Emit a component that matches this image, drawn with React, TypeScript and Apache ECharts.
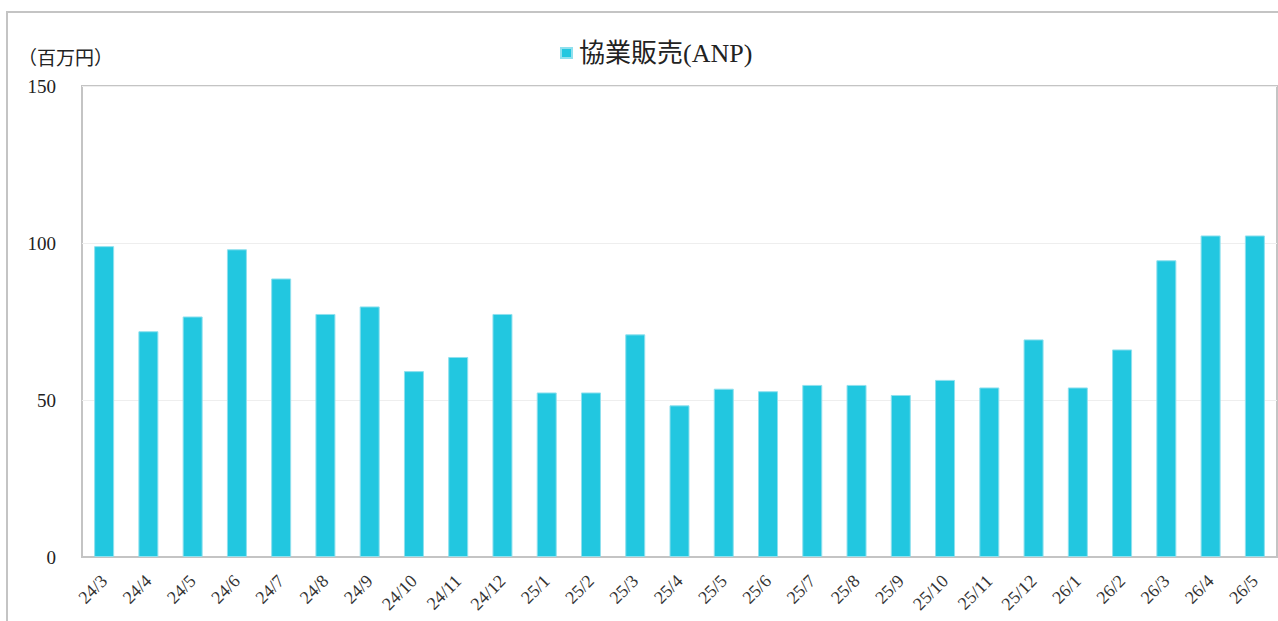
import React, { useEffect, useRef } from "react";
import * as echarts from "echarts";

const categories = [
  "24/3", "24/4", "24/5", "24/6", "24/7", "24/8", "24/9", "24/10", "24/11", "24/12",
  "25/1", "25/2", "25/3", "25/4", "25/5", "25/6", "25/7", "25/8", "25/9", "25/10",
  "25/11", "25/12", "26/1", "26/2", "26/3", "26/4", "26/5",
];

const anpValues = [
  99.0, 71.9, 76.6, 98.0, 88.7, 77.4, 79.8, 59.2, 63.7, 77.4,
  52.4, 52.4, 70.9, 48.3, 53.6, 52.8, 54.8, 54.8, 51.6, 56.4,
  54.0, 69.3, 54.0, 66.1, 94.5, 102.4, 102.4,
];

const seriesName = "協業販売(ANP)";
const unitLabel = "（百万円）";

const SERIF = "'Liberation Serif', 'DejaVu Serif', 'Noto Sans CJK JP', serif";

export default function App() {
  const ref = useRef<HTMLDivElement>(null);

  useEffect(() => {
    if (!ref.current) return;
    const chart = echarts.init(ref.current, undefined, { renderer: "svg" });
    chart.setOption({
      animation: false,
      backgroundColor: "#ffffff",
      legend: {
        data: [seriesName],
        left: 555,
        top: 35,
        icon: "rect",
        itemWidth: 11,
        itemHeight: 10,
        itemGap: 0,
        textStyle: {
          fontFamily: SERIF,
          fontSize: 26,
          color: "#222222",
          padding: [0, 0, 0, 2],
        },
      },
      grid: {
        left: 82,
        top: 86,
        right: 1,
        bottom: 64,
        show: true,
        borderColor: "#c4c4c4",
        borderWidth: 2,
        containLabel: false,
      },
      xAxis: {
        type: "category",
        data: categories,
        axisLine: { show: true, lineStyle: { color: "#c4c4c4", width: 2 } },
        axisTick: { show: false },
        axisLabel: {
          rotate: 45,
          margin: 21,
          fontFamily: SERIF,
          fontSize: 18,
          color: "#333333",
          interval: 0,
        },
      },
      yAxis: {
        type: "value",
        min: 0,
        max: 150,
        interval: 50,
        axisLine: { show: false },
        axisTick: { show: false },
        splitLine: { show: true, lineStyle: { color: "#eeeeee", width: 1 } },
        axisLabel: {
          margin: 26,
          fontFamily: SERIF,
          fontSize: 19,
          color: "#222222",
        },
      },
      graphic: [
        {
          type: "rect",
          shape: { x: 7, y: 12, width: 1300, height: 640 },
          style: { fill: "none", stroke: "#c4c4c4", lineWidth: 2 },
          silent: true,
        },
        {
          type: "text",
          x: 18,
          y: 58,
          style: {
            text: unitLabel,
            fontFamily: SERIF,
            fontSize: 19,
            fill: "#222222",
            verticalAlign: "middle",
          },
        },
      ],
      series: [
        {
          name: seriesName,
          type: "bar",
          data: anpValues,
          barWidth: 20,
          itemStyle: {
            color: "#22c7e0",
            borderColor: "#8fe0ee",
            borderWidth: 1,
          },
        },
      ],
    });
    return () => chart.dispose();
  }, []);

  return (
    <div
      ref={ref}
      style={{ position: "absolute", left: 0, top: 0, width: 1278, height: 621 }}
    />
  );
}
